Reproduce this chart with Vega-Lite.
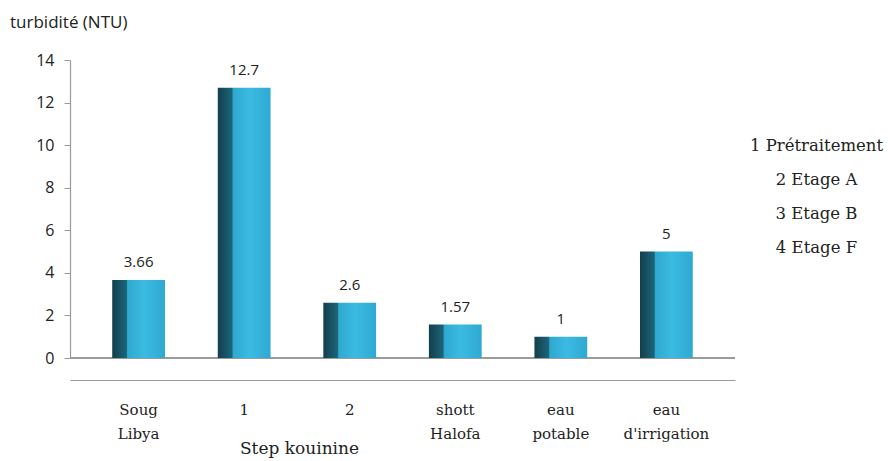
{
  "$schema": "https://vega.github.io/schema/vega-lite/v6.json",
  "width": 665,
  "height": 298,
  "padding": {"left": 10, "top": 14, "right": 5, "bottom": 5},
  "background": "white",
  "config": {"view": {"stroke": null}},
  "title": {
    "text": "turbidité (NTU)",
    "anchor": "start",
    "frame": "group",
    "dx": -60,
    "offset": 20,
    "font": "Open Sans",
    "fontSize": 17,
    "fontWeight": "normal",
    "color": "#222222"
  },
  "datasets": {
    "bars": [
      {"site": "Soug|Libya", "turbidite": 3.66},
      {"site": "1", "turbidite": 12.7},
      {"site": "2", "turbidite": 2.6},
      {"site": "shott|Halofa", "turbidite": 1.57},
      {"site": "eau|potable", "turbidite": 1},
      {"site": "eau|d'irrigation", "turbidite": 5}
    ],
    "notes": [
      {"note": "1 Prétraitement"},
      {"note": "2 Etage A"},
      {"note": "3 Etage B"},
      {"note": "4 Etage F"}
    ]
  },
  "layer": [
    {
      "data": {"name": "bars"},
      "mark": {"type": "rule", "color": "#9a9a9a", "strokeWidth": 1.2},
      "encoding": {"y": {"datum": 0, "type": "quantitative"}}
    },
    {
      "data": {"name": "bars"},
      "mark": {
        "type": "bar",
        "color": {
          "gradient": "linear",
          "x1": 0, "y1": 0, "x2": 1, "y2": 0,
          "stops": [
            {"offset": 0, "color": "#123f4d"},
            {"offset": 0.27, "color": "#1d6479"},
            {"offset": 0.29, "color": "#2ea8cf"},
            {"offset": 0.6, "color": "#3bbbe2"},
            {"offset": 1, "color": "#2fa9d2"}
          ]
        }
      },
      "encoding": {
        "x": {
          "field": "site",
          "type": "nominal",
          "sort": null,
          "scale": {"paddingInner": 0.5, "paddingOuter": 0.4},
          "axis": {
            "labelExpr": "split(datum.value, '|')",
            "labelAngle": 0,
            "labelFont": "DejaVu Serif",
            "labelFontSize": 15,
            "labelColor": "#222222",
            "labelPadding": 22,
            "labelBaseline": "top",
            "labelLineHeight": 24,
            "offset": 22,
            "ticks": false,
            "domainColor": "#9a9a9a",
            "domainWidth": 1.2,
            "title": "Step kouinine",
            "titleFont": "DejaVu Serif",
            "titleFontSize": 17,
            "titleFontWeight": "normal",
            "titleColor": "#222222",
            "titleX": 229,
            "titleY": 60
          }
        },
        "y": {
          "field": "turbidite",
          "type": "quantitative",
          "scale": {"domain": [0, 14]},
          "axis": {
            "values": [0, 2, 4, 6, 8, 10, 12, 14],
            "grid": false,
            "title": null,
            "labelFont": "Open Sans",
            "labelFontSize": 16,
            "labelColor": "#222222",
            "labelPadding": 10,
            "tickSize": 6,
            "tickColor": "#9a9a9a",
            "domainColor": "#9a9a9a",
            "domainWidth": 1.2
          }
        }
      }
    },
    {
      "data": {"name": "bars"},
      "mark": {
        "type": "text",
        "dy": -10,
        "font": "Open Sans",
        "fontSize": 15,
        "color": "#222222",
        "baseline": "bottom"
      },
      "encoding": {
        "x": {"field": "site", "type": "nominal", "sort": null},
        "y": {"field": "turbidite", "type": "quantitative"},
        "text": {"field": "turbidite", "type": "quantitative"}
      }
    },
    {
      "data": {"name": "notes"},
      "mark": {"type": "text", "text": ""},
      "encoding": {
        "color": {
          "field": "note",
          "type": "nominal",
          "scale": {"range": ["#222222"]},
          "legend": {
            "orient": "none",
            "legendX": 682,
            "legendY": 78,
            "title": null,
            "symbolSize": 0,
            "symbolOpacity": 0,
            "labelAlign": "center",
            "labelOffset": 48,
            "labelFont": "DejaVu Serif",
            "labelFontSize": 16.5,
            "labelColor": "#222222",
            "rowPadding": 17
          }
        }
      }
    }
  ]
}
